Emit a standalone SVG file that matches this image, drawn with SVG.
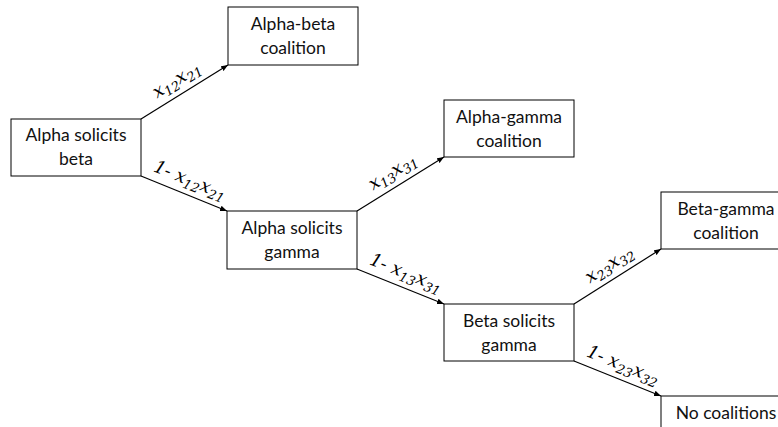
<svg xmlns="http://www.w3.org/2000/svg" width="778" height="427" viewBox="0 0 778 427">
<defs>
<marker id="ah" viewBox="0 0 10 10" refX="10" refY="5" markerWidth="7" markerHeight="7" orient="auto" markerUnits="userSpaceOnUse">
<path d="M0,1 L10,5 L0,9 Z" fill="#000"/>
</marker>
<style>
.box{fill:#fff;stroke:#000;stroke-width:1}
.t{font-family:Lato,"Liberation Sans",sans-serif;font-size:17.5px;fill:#111;text-anchor:middle}
.c{stroke:#000;stroke-width:1.2;fill:none;marker-end:url(#ah)}
.m{font-family:"DejaVu Serif","Liberation Serif",serif;font-style:italic;font-size:18px;fill:#000;text-anchor:middle}
.s{font-size:13px}
</style>
</defs>
<rect width="778" height="427" fill="#fff"/>
<g id="n1"><rect class="box" x="11" y="119" width="130" height="57"/><text class="t" x="76" y="141">Alpha solicits</text><text class="t" x="76" y="165">beta</text></g>
<g id="n2"><rect class="box" x="228" y="7" width="130" height="58"/><text class="t" x="293" y="30">Alpha-beta</text><text class="t" x="293" y="54">coalition</text></g>
<g id="n3"><rect class="box" x="227" y="211" width="130" height="58"/><text class="t" x="292" y="234">Alpha solicits</text><text class="t" x="292" y="258">gamma</text></g>
<g id="n4"><rect class="box" x="444" y="100" width="130" height="57"/><text class="t" x="509" y="123">Alpha-gamma</text><text class="t" x="509" y="147">coalition</text></g>
<g id="n5"><rect class="box" x="444" y="304" width="130" height="57"/><text class="t" x="509" y="327">Beta solicits</text><text class="t" x="509" y="351">gamma</text></g>
<g id="n6"><rect class="box" x="661" y="192" width="130" height="57"/><text class="t" x="726" y="215">Beta-gamma</text><text class="t" x="726" y="239">coalition</text></g>
<g id="n7"><rect class="box" x="661" y="396" width="130" height="57"/><text class="t" x="726" y="419">No coalitions</text></g>
<g id="connectors">
<line class="c" x1="141" y1="119" x2="228" y2="65"/>
<line class="c" x1="141" y1="176" x2="227" y2="211"/>
<line class="c" x1="357" y1="211" x2="444" y2="157"/>
<line class="c" x1="357" y1="269" x2="444" y2="304"/>
<line class="c" x1="574" y1="304" x2="661" y2="249"/>
<line class="c" x1="574" y1="361" x2="661" y2="396"/>
<g transform="translate(141,119) rotate(-31.8)"><text class="m" x="51" y="-9">x<tspan class="s" dy="4">12</tspan><tspan dy="-4">x</tspan><tspan class="s" dy="4">21</tspan></text></g>
<g transform="translate(141,176) rotate(22.1)"><text class="m" x="47" y="-9">1- x<tspan class="s" dy="4">12</tspan><tspan dy="-4">x</tspan><tspan class="s" dy="4">21</tspan></text></g>
<g transform="translate(357,211) rotate(-31.8)"><text class="m" x="51" y="-9">x<tspan class="s" dy="4">13</tspan><tspan dy="-4">x</tspan><tspan class="s" dy="4">31</tspan></text></g>
<g transform="translate(357,269) rotate(21.9)"><text class="m" x="47" y="-9">1- x<tspan class="s" dy="4">13</tspan><tspan dy="-4">x</tspan><tspan class="s" dy="4">31</tspan></text></g>
<g transform="translate(574,304) rotate(-32.3)"><text class="m" x="51" y="-9">x<tspan class="s" dy="4">23</tspan><tspan dy="-4">x</tspan><tspan class="s" dy="4">32</tspan></text></g>
<g transform="translate(574,361) rotate(21.9)"><text class="m" x="47" y="-9">1- x<tspan class="s" dy="4">23</tspan><tspan dy="-4">x</tspan><tspan class="s" dy="4">32</tspan></text></g>
</g>
</svg>
